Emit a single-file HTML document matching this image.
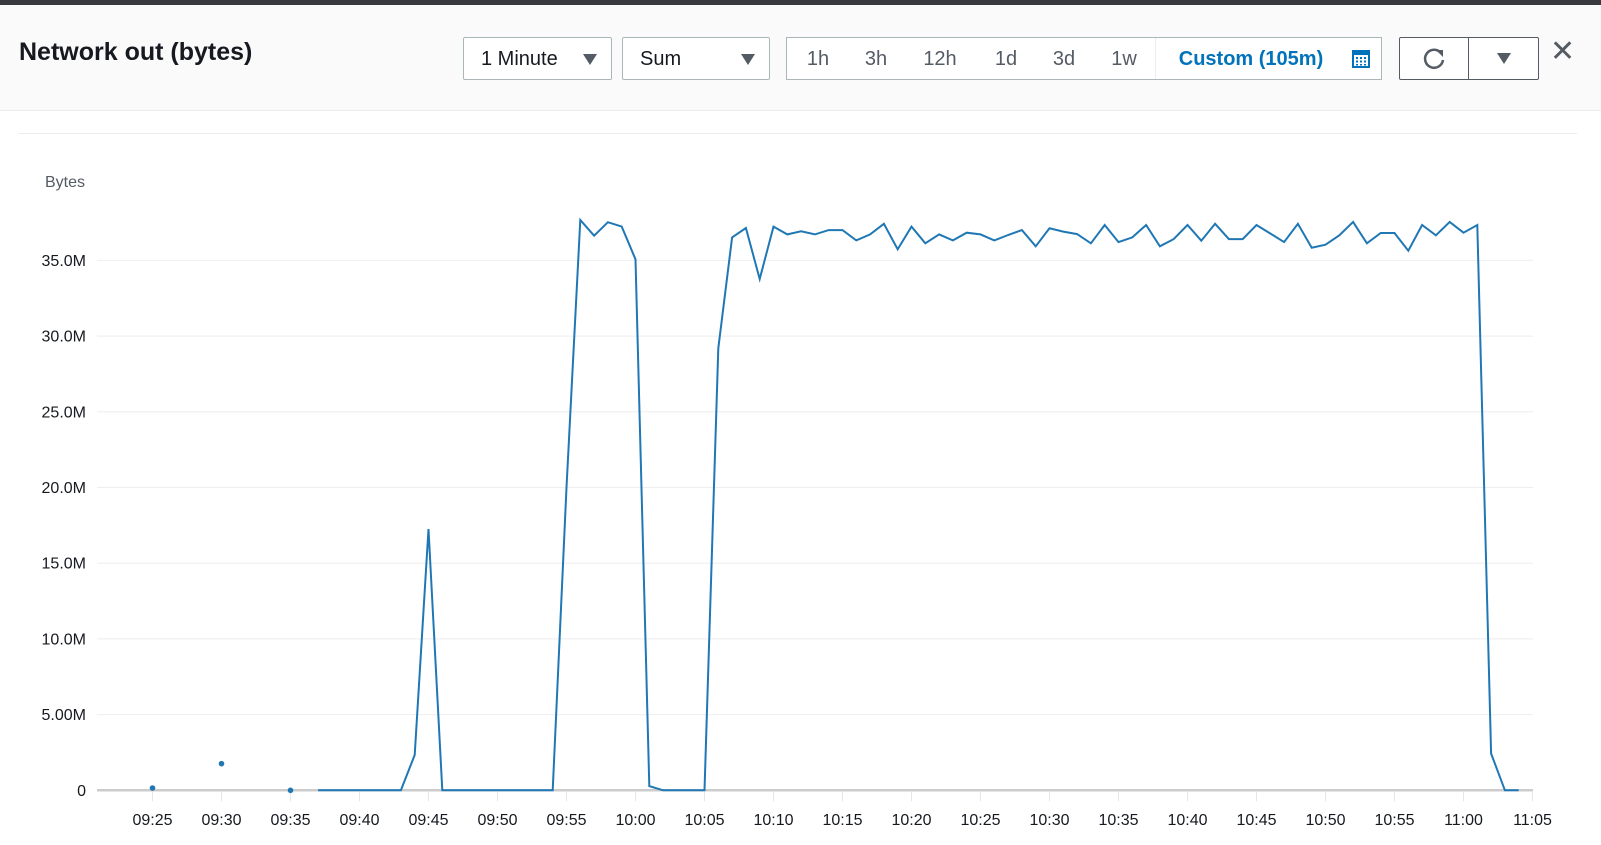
<!DOCTYPE html>
<html><head><meta charset="utf-8">
<style>
body{margin:0;width:1601px;height:845px;background:#fff;font-family:"Liberation Sans",sans-serif;overflow:hidden;position:relative}
.abs{position:absolute}
.topbar{left:0;top:0;width:1601px;height:5px;background:#37393d}
.header{left:0;top:5px;width:1601px;height:105px;background:#fafafa;border-bottom:1px solid #eaeded}
.title{left:19px;top:38px;font-size:25px;font-weight:bold;color:#16191f;white-space:nowrap}
.sel{top:37px;height:43px;border:1px solid #aab7b8;border-radius:2px;background:#fff;font-size:20px;color:#16191f;line-height:43px;box-sizing:border-box}
.sel span{position:absolute;left:17px}
.tri{position:absolute;right:14px;top:16px;width:0;height:0;border-left:7px solid transparent;border-right:7px solid transparent;border-top:11px solid #545b64}
.grp{left:786px;top:37px;width:596px;height:43px;border:1px solid #aab7b8;background:#fff;box-sizing:border-box}
.ti{position:absolute;top:0;line-height:43px;font-size:20px;color:#545b64;transform:translateX(-50%);white-space:nowrap}
.btn{top:37px;height:43px;border:1px solid #545b64;background:#fff;box-sizing:border-box}
</style></head><body>
<div class="abs topbar"></div>
<div class="abs header"></div>
<div class="abs title">Network out (bytes)</div>
<div class="abs sel" style="left:463px;width:149px"><span>1 Minute</span><i class="tri"></i></div>
<div class="abs sel" style="left:622px;width:148px"><span>Sum</span><i class="tri"></i></div>
<div class="abs grp">
 <div class="ti" style="left:31px">1h</div>
 <div class="ti" style="left:89px">3h</div>
 <div class="ti" style="left:153px">12h</div>
 <div class="ti" style="left:219px">1d</div>
 <div class="ti" style="left:277px">3d</div>
 <div class="ti" style="left:337px">1w</div>
 <div class="abs" style="left:368px;top:0;width:1px;height:41px;background:#eaeded"></div>
 <div class="ti" style="left:464px;color:#0073bb;font-weight:bold">Custom (105m)</div>
 <svg class="abs" style="left:565px;top:12px" width="18" height="18"><rect x="1" y="1" width="16" height="16" fill="none" stroke="#0073bb" stroke-width="2"/><rect x="1" y="1" width="16" height="4" fill="#0073bb"/><g fill="#0073bb"><rect x="4" y="7" width="2" height="2"/><rect x="8" y="7" width="2" height="2"/><rect x="12" y="7" width="2" height="2"/><rect x="4" y="10.5" width="2" height="2"/><rect x="8" y="10.5" width="2" height="2"/><rect x="12" y="10.5" width="2" height="2"/><rect x="4" y="14" width="2" height="1.5"/><rect x="8" y="14" width="2" height="1.5"/><rect x="12" y="14" width="2" height="1.5"/></g></svg>
</div>
<div class="abs btn" style="left:1399px;width:70px;border-radius:2px 0 0 2px">
 <svg class="abs" style="left:22px;top:8px" width="26" height="26"><path d="M19 7 A9 9 0 1 0 21 14" fill="none" stroke="#545b64" stroke-width="2.5"/><path d="M14 4 L21 4 L21 11 Z" fill="#545b64"/></svg>
</div>
<div class="abs btn" style="left:1468px;width:71px;border-radius:0 2px 2px 0"><i class="tri" style="right:27px;top:15px"></i></div>
<div class="abs" style="left:1550px;top:34px;font-size:30px;color:#545b64">✕</div>
<div class="abs" style="left:19px;top:133px;width:1558px;height:1px;background:#eaeded"></div>

<svg class="abs" style="left:0;top:0" width="1601" height="845" id="chart"></svg>
<script>
const yTicks=[0,5,10,15,20,25,30,35];
const yTickLabels=["0","5.00M","10.0M","15.0M","20.0M","25.0M","30.0M","35.0M"];
const xTickLabels=["09:25","09:30","09:35","09:40","09:45","09:50","09:55","10:00","10:05","10:10","10:15","10:20","10:25","10:30","10:35","10:40","10:45","10:50","10:55","11:00","11:05"];
// isolated points: minutes since 09:25, value in M bytes
const dotMinutes=[0,5,10];
const dotValues=[0.15,1.76,0.0];
// continuous series starts at 09:37 (minute 12)
const lineStartMinute=12;
const lineValues=[0,0,0,0,0,0,0,2.33,17.26,0,0,0,0,0,0,0,0,0,20,37.67,36.63,37.52,37.23,35.07,0.28,0,0,0,0,29.2,36.52,37.14,33.77,
37.23,36.72,36.92,36.72,37.0,37.0,36.32,36.72,37.42,35.73,37.23,36.13,36.72,36.32,36.83,36.72,36.32,36.68,37.0,
35.93,37.12,36.9,36.74,36.13,37.34,36.21,36.52,37.34,35.93,36.41,37.34,36.3,37.42,36.41,36.41,37.34,36.78,36.21,37.42,35.84,36.04,36.66,37.54,36.13,36.81,36.81,35.64,37.34,36.66,37.54,36.83,37.34,
2.43,0,0];
const X0=152.5,PXMIN=13.8,Y0=790.3,PXM=15.14;
const xs=m=>X0+m*PXMIN, ys=v=>Y0-v*PXM;
const svg=document.getElementById('chart');const NS='http://www.w3.org/2000/svg';
function mk(t,a){const e=document.createElementNS(NS,t);for(const k in a)e.setAttribute(k,a[k]);svg.appendChild(e);return e;}
let t=mk('text',{x:85,y:187,'text-anchor':'end','font-size':16,fill:'#545b64','font-family':'Liberation Sans'});t.textContent='Bytes';


yTicks.forEach((v,i)=>{
 if(v>0){const g=mk('line',{x1:97,x2:1533,y1:ys(v),y2:ys(v),stroke:'#eeeeee','stroke-width':1});
 
 }
 const l=mk('text',{x:86,y:ys(v)+5.5,'text-anchor':'end','font-size':16,fill:'#16191f','font-family':'Liberation Sans'});
 l.textContent=yTickLabels[i];
 
 
});
const ax=mk('line',{x1:97,x2:1533,y1:Y0,y2:Y0,stroke:'#cccccc','stroke-width':2.5});


xTickLabels.forEach((s,i)=>{
 const x=xs(i*5);
 const tk=mk('line',{x1:x,x2:x,y1:Y0+2,y2:Y0+11,stroke:'#e6e6e6','stroke-width':1});
 
 
 const l=mk('text',{x:x,y:825,'text-anchor':'middle','font-size':16,fill:'#16191f','font-family':'Liberation Sans'});
 l.textContent=s;
 
 
});
const pts=lineValues.map((v,i)=>xs(lineStartMinute+i).toFixed(1)+','+ys(v).toFixed(1)).join(' ');
const pl=mk('polyline',{points:pts,fill:'none',stroke:'#1f77b4','stroke-width':2,'stroke-linejoin':'miter'});


dotMinutes.forEach((m,i)=>{
 const c=mk('circle',{cx:xs(m),cy:ys(dotValues[i]),r:2.8,fill:'#1f77b4'});
 
 
});
</script>
</body></html>
